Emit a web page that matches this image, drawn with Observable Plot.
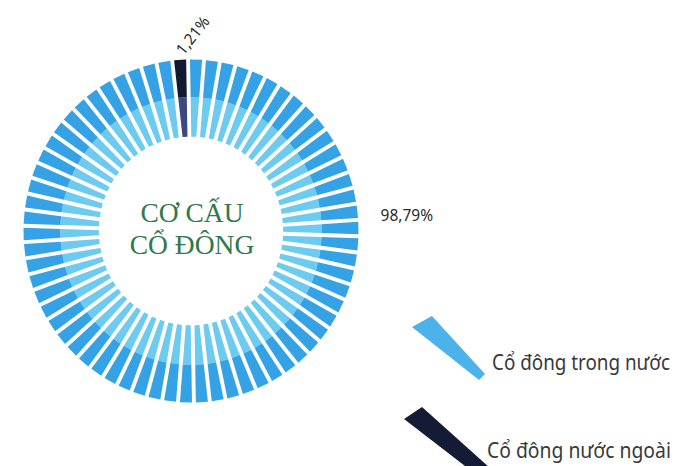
<!DOCTYPE html>
<html>
<head>
<meta charset="utf-8">
<script src="https://cdn.jsdelivr.net/npm/d3@7"></script>
<script src="https://cdn.jsdelivr.net/npm/@observablehq/plot@0.6"></script>
<style>
  body { margin: 0; background: #fff; }
  #wrap { position: relative; width: 678px; height: 466px; overflow: hidden; background: #fff; }
  #legend { position: absolute; left: 0; top: 0; }
</style>
</head>
<body>
<div id="wrap"></div>
<script>
// ---- data ----
const groups = ["Cổ đông trong nước", "Cổ đông nước ngoài"];
const shares = [98.79, 1.21];
const shareLabels = ["98,79%", "1,21%"];
const centerTitle = ["CƠ CẤU", "CỔ ĐÔNG"];
const segmentCount = 66;

// ---- styles ----
const palette = [
  ["#6dcbef", "#36a2e6"],   // domestic: inner band, outer band
  ["#3c4980", "#111a30"]    // foreign: inner band, outer band
];
const legendColors = ["#4cb2ea", "#141b34"];

const rad = Math.PI / 180;
const N = segmentCount;
const foreignN = Math.max(1, Math.round(N * shares[1] / 100));
const pitch = 360 / N;
const startOffset = -1;
const rIn = 0.55, rMid = 0.78, rOut = 1;
const halfGap = 0.0115;

const pts = [];
for (let i = 0; i < N; i++) {
  const g = i < N - foreignN ? 0 : 1;
  const a = (startOffset + i * pitch) * rad;
  const b = (startOffset + (i + 1) * pitch) * rad;
  [[rIn, rMid, 0], [rMid, rOut, 1]].forEach(([r0, r1, band]) => {
    const id = i + "-" + band;
    const fill = palette[g][band];
    const P = (r, t, s) => ({
      id, fill,
      x: r * Math.sin(t) + s * halfGap * Math.cos(t),
      y: r * Math.cos(t) - s * halfGap * Math.sin(t)
    });
    pts.push(P(r0, a, 1), P(r1, a, 1), P(r1, b, -1), P(r0, b, -1));
  });
}

const polar = (deg, r) => ({x: r * Math.sin(deg * rad), y: r * Math.cos(deg * rad)});
const foreignAngle = startOffset + (N - foreignN / 2) * pitch;
const lblForeign = {...polar(foreignAngle, 1.04), text: shareLabels[1]};
const lblDomestic = {...polar(85.5, 1.135), text: shareLabels[0]};

const chart = Plot.plot({
  width: 678,
  height: 466,
  margin: 0,
  x: {domain: [-1, 1], range: [23, 358], axis: null},
  y: {domain: [-1, 1], range: [402, 59], axis: null},
  color: {type: "identity"},
  style: {background: "transparent"},
  marks: [
    Plot.line(pts, {x: "x", y: "y", z: "id", fill: "fill", stroke: "none", curve: "linear-closed"}),
    Plot.text([centerTitle.join("\n")], {
      x: 0, y: 0, dx: 1, dy: -3, text: d => d,
      fontSize: 27.5, lineHeight: 1.17, fill: "#2f7a4d",
      fontFamily: "Liberation Serif"
    }),
    Plot.text([lblDomestic], {
      x: "x", y: "y", text: "text", textAnchor: "start",
      fontSize: 15.5, fill: "#2b2b2b", fontFamily: "Noto Sans"
    }),
    Plot.text([lblForeign], {
      x: "x", y: "y", text: "text", textAnchor: "start", rotate: -52,
      fontSize: 15.5, fill: "#2b2b2b", fontFamily: "Noto Sans"
    })
  ]
});

const wrap = document.getElementById("wrap");
wrap.appendChild(chart);

// ---- legend overlay ----
const ns = "http://www.w3.org/2000/svg";
const lg = document.createElementNS(ns, "svg");
lg.setAttribute("id", "legend");
lg.setAttribute("width", 678);
lg.setAttribute("height", 466);
wrap.appendChild(lg);
const wedges = [
  "412,327 432,316 485,374 479,380",
  "404,419 422,407 490,468 478,476"
];
const textPos = [[492, 370, 178], [487, 458, 184]];
groups.forEach((name, i) => {
  const p = document.createElementNS(ns, "polygon");
  p.setAttribute("points", wedges[i]);
  p.setAttribute("fill", legendColors[i]);
  lg.appendChild(p);
  const t = document.createElementNS(ns, "text");
  t.setAttribute("x", 0);
  t.setAttribute("y", 0);
  t.setAttribute("font-family", "Noto Sans");
  t.setAttribute("font-size", 21);
  t.setAttribute("fill", "#3a3a3a");
  t.textContent = name;
  lg.appendChild(t);
  const natural = t.getComputedTextLength() || textPos[i][2];
  const sx = Math.min(1, textPos[i][2] / natural);
  t.setAttribute("transform", `translate(${textPos[i][0]},${textPos[i][1]}) scale(${sx},1)`);
});
</script>
</body>
</html>
